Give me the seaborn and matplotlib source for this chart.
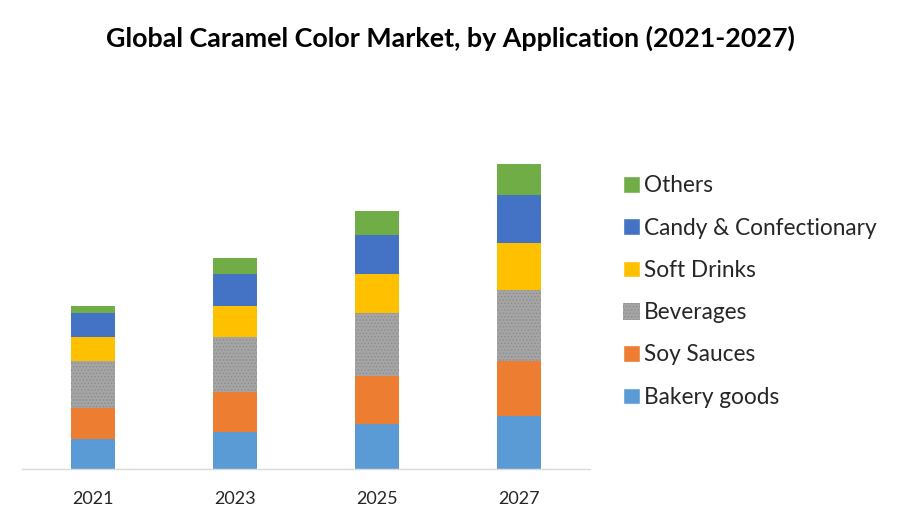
import pandas as pd
import numpy as np
import matplotlib
matplotlib.use('Agg')
import matplotlib.pyplot as plt
import seaborn as sns
from matplotlib.patches import Patch

# values (no value axis in the original, so units are arbitrary)
years = ['2021', '2023', '2025', '2027']
bakery = [30, 37, 45, 53]
soy = [31, 40, 48, 55]
beverages = [47, 55, 63, 71]
soft_drinks = [24, 31, 39, 47]
candy = [24, 32, 39, 48]
others = [7, 16, 24, 31]

segments = ['Bakery goods', 'Soy Sauces', 'Beverages', 'Soft Drinks',
            'Candy & Confectionary', 'Others']
colors = ['#5B9BD5', '#ED7D31', '#A5A5A5', '#FFC000', '#4472C4', '#70AD47']

df = pd.DataFrame({'year': years, 'Bakery goods': bakery, 'Soy Sauces': soy,
                   'Beverages': beverages, 'Soft Drinks': soft_drinks,
                   'Candy & Confectionary': candy, 'Others': others})

# cumulative totals so each layer can be drawn over the one above it
cum = df[segments].cumsum(axis=1)

sns.set_style('white')
plt.rcParams['font.family'] = ['Lato', 'DejaVu Sans']
plt.rcParams['hatch.linewidth'] = 0.6

fig = plt.figure(figsize=(9, 5.25), dpi=100)
ax = fig.add_axes([22 / 900, 56 / 525, 568 / 900, 339 / 525])

for seg, col in reversed(list(zip(segments, colors))):
    sns.barplot(x=df['year'], y=cum[seg], color=col, saturation=1, width=0.31,
                linewidth=0, ax=ax)
    if seg == 'Beverages':
        for p in ax.patches[-4:]:
            p.set_hatch('.....')
            p.set_edgecolor('#8c8c8c')
            p.set_linewidth(0)

ax.set_xlim(-0.5, 3.5)
ax.set_ylim(0, 339)
ax.set_xlabel('')
ax.set_ylabel('')
ax.set_yticks([])
for s in ['top', 'right', 'left']:
    ax.spines[s].set_visible(False)
ax.spines['bottom'].set_color('#d9d9d9')
ax.spines['bottom'].set_linewidth(1)
ax.tick_params(axis='x', length=0, labelsize=13, colors='#262626', pad=16)

handles = [Patch(facecolor=c, label=s) for s, c in zip(segments, colors)]
handles[2].set_hatch('.....')
handles[2].set_edgecolor('#8c8c8c')
handles[2].set_linewidth(0)
leg = fig.legend(handles=handles[::-1], loc='upper left',
                 bbox_to_anchor=(603 / 900, 1 - 155 / 525), frameon=False,
                 fontsize=16.3, handlelength=0.75, handleheight=0.75,
                 handletextpad=0.15, labelspacing=0.94)

fig.text(0.5, 1 - 38 / 525, 'Global Caramel Color Market, by Application (2021-2027)',
         ha='center', va='center', fontsize=19.4, fontweight='bold', color='black')

fig.savefig('out.png', dpi=100)
